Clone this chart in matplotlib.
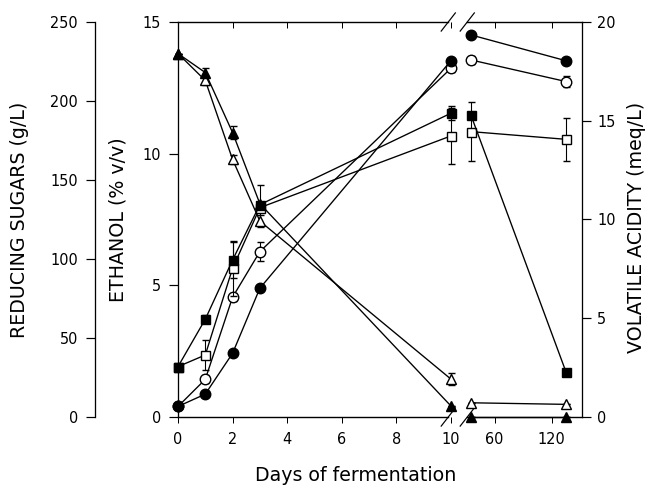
import numpy as np
import matplotlib
matplotlib.use("Agg")
import matplotlib.pyplot as plt
from matplotlib.ticker import FixedLocator, NullFormatter

# Sampling days (the x axis is broken after day 10)
days = np.array([0, 1, 2, 3, 10, 35, 135])

# Reducing sugars (g/L)
sugar_a = np.array([230, 218, 180, 135, 7, 0, 0])
sugar_a_err = np.array([0, 3, 4, 0, 0, 0, 0])
sugar_b = np.array([230, 213, 163, 124, 24, 9, 8])
sugar_b_err = np.array([0, 3, 3, 4, 4, 0, 0])

# Ethanol (% v/v)
ethanol_a = np.array([0.4, 0.87, 2.42, 4.89, 13.53, 14.51, 13.53])
ethanol_a_err = np.array([0, 0, 0, 0, 0, 0, 0])
ethanol_b = np.array([0.4, 1.43, 4.55, 6.28, 13.24, 13.56, 12.74])
ethanol_b_err = np.array([0, 0.15, 0.15, 0.35, 0.12, 0.15, 0.2])

# Volatile acidity (meq/L)
va_a = np.array([2.55, 4.95, 7.95, 10.75, 15.38, 15.29, 2.3])
va_a_err = np.array([0, 0.2, 0.9, 1.0, 0.35, 0, 0])
va_b = np.array([2.55, 3.14, 7.53, 10.6, 14.23, 14.45, 14.06])
va_b_err = np.array([0, 0.75, 1.4, 0, 1.4, 1.5, 1.1])

x_ticks = [0, 2, 4, 6, 8, 10, 60, 120]
x_ticklabels = ["0", "2", "4", "6", "8", "10", "60", "120"]

plt.rcParams["font.family"] = ["DejaVu Sans"]

TICK_FS = 14.5
LABEL_FS = 19

# Piecewise-linear day axis: full scale up to day 10, compressed afterwards
K_LATE = 0.95 / 27.3
XP = np.array([-1e4, 10.0, 35.0, 1e4])
UP = np.array([-1e4, 10.0, 10.0 + 20 / 27.3, 10.0 + 20 / 27.3 + (1e4 - 35.0) * K_LATE])


def fwd(x):
    return np.interp(x, XP, UP)


def inv(u):
    return np.interp(u, UP, XP)


fig = plt.figure(figsize=(9, 6.75), dpi=72)
ax = fig.add_axes([178 / 648, 69 / 486, 404 / 648, 395 / 486])
ax.set_xscale("function", functions=(fwd, inv))
ax.set_xlim(0, 152)
ax.set_ylim(0, 15)

ax_va = ax.twinx()
ax_va.set_ylim(0, 20)
ax_sug = ax.twinx()
ax_sug.set_ylim(0, 250)

for a in (ax, ax_va, ax_sug):
    for s in a.spines.values():
        s.set_visible(False)
        s.set_linewidth(1.3)
    a.patch.set_visible(False)

# Left (ethanol) axis
ax.spines["left"].set_visible(True)
ax.set_yticks([0, 5, 10, 15])
ax.tick_params(axis="y", direction="out", length=9, width=1.2, labelsize=TICK_FS, pad=8)
ax.set_ylabel("ETHANOL (% v/v)", fontsize=LABEL_FS)
ax.yaxis.set_label_coords(-0.126, 0.5)

# Right (volatile acidity) axis
ax_va.spines["right"].set_visible(True)
ax_va.set_yticks([0, 5, 10, 15, 20])
ax_va.tick_params(axis="y", direction="out", length=9, width=1.2, labelsize=TICK_FS, pad=6)
ax_va.set_ylabel("VOLATILE ACIDITY (meq/L)", fontsize=LABEL_FS)
ax_va.yaxis.set_label_coords(1.112, 0.48)

# Outer left (sugar) axis
ax_sug.yaxis.set_label_position("left")
ax_sug.yaxis.set_ticks_position("left")
ax_sug.spines["left"].set_position(("axes", -0.2054))
ax_sug.spines["left"].set_visible(True)
ax_sug.set_yticks([0, 50, 100, 150, 200, 250])
ax_sug.tick_params(axis="y", direction="out", length=9, width=1.2, labelsize=TICK_FS, pad=8)
ax_sug.set_ylabel("REDUCING SUGARS (g/L)", fontsize=LABEL_FS)
ax_sug.yaxis.set_label_coords(-0.369, 0.5)

# Day axis: labelled ticks outside at the bottom, plain ticks inside at the top
ax.xaxis.set_major_locator(FixedLocator(x_ticks))
ax.set_xticklabels(x_ticklabels)
ax.xaxis.set_minor_locator(FixedLocator(x_ticks))
ax.xaxis.set_minor_formatter(NullFormatter())
ax.xaxis.remove_overlapping_locs = False
ax.tick_params(axis="x", which="major", direction="out", length=6, width=1.0,
               bottom=True, top=False, labelsize=TICK_FS, pad=9)
ax.tick_params(axis="x", which="minor", direction="in", length=6, width=1.0,
               bottom=False, top=True)
ax.set_xlabel("Days of fermentation", fontsize=LABEL_FS)
ax.xaxis.set_label_coords(0.44, -0.125)

# Broken top and bottom frame lines with slash marks
b1, b2 = 0.669, 0.716
for yy in (0.0, 1.0):
    ax.plot([0, b1], [yy, yy], transform=ax.transAxes, color="black", lw=1.4, clip_on=False)
    ax.plot([b2, 1], [yy, yy], transform=ax.transAxes, color="black", lw=1.4, clip_on=False)
    for bx in (b1, b2):
        ax.plot([bx - 0.0175, bx + 0.0175], [yy - 0.023, yy + 0.023],
                transform=ax.transAxes, color="black", lw=1.2, clip_on=False)

early = days <= 10
late = days > 10


def draw(a, y, err, marker, filled, ms):
    face = "black" if filled else "white"
    for m in (early, late):
        a.errorbar(days[m], y[m], yerr=err[m], fmt="-", color="black", lw=1.35,
                   marker=marker, ms=ms, mfc=face, mec="black", mew=1.4,
                   ecolor="black", elinewidth=1.1, capsize=3.5, capthick=1.1,
                   clip_on=False, zorder=3)


draw(ax_sug, sugar_b, sugar_b_err, "^", False, 10.5)
draw(ax_sug, sugar_a, sugar_a_err, "^", True, 10.5)
draw(ax_va, va_b, va_b_err, "s", False, 9)
draw(ax_va, va_a, va_a_err, "s", True, 9)
draw(ax, ethanol_b, ethanol_b_err, "o", False, 10.5)
draw(ax, ethanol_a, ethanol_a_err, "o", True, 10.5)

fig.savefig("out.png", dpi=72, facecolor="white")
